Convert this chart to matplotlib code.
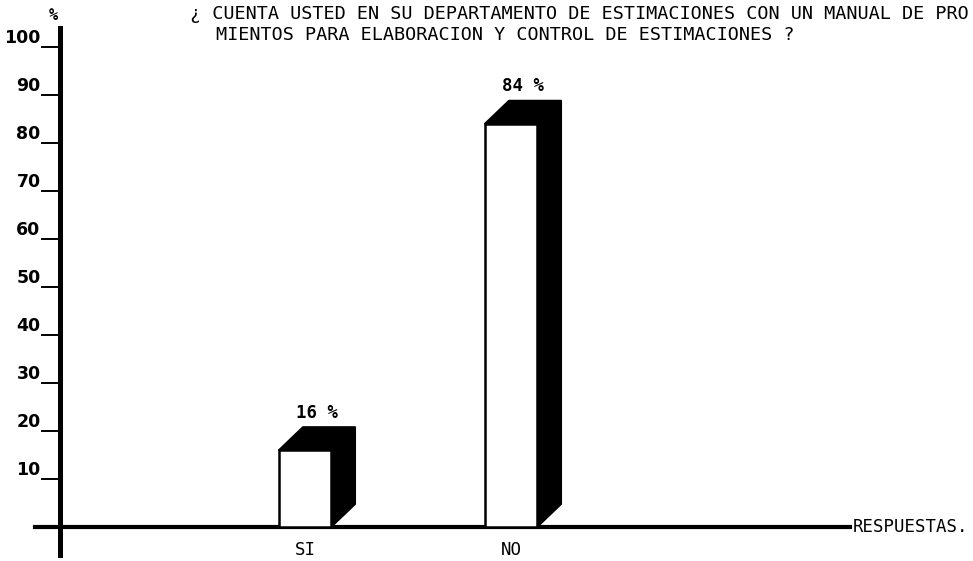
import matplotlib
matplotlib.use("Agg")
import matplotlib.pyplot as plt
from matplotlib.patches import Polygon

# ---- data ----
categories = ["SI", "NO"]
values = [16, 84]
value_labels = ["16 %", "84 %"]
yticks = [10, 20, 30, 40, 50, 60, 70, 80, 90, 100]
title_line1 = "¿ CUENTA USTED EN SU DEPARTAMENTO DE ESTIMACIONES CON UN MANUAL DE PRO"
title_line2 = "MIENTOS PARA ELABORACION Y CONTROL DE ESTIMACIONES ?"
x_axis_name = "RESPUESTAS."
y_axis_name = "%"

# ---- layout (pixel-based) ----
W, H = 973, 561
px_per_unit_y = 4.8      # pixels per 1 %
px_per_unit_x = 206.0    # pixels between category centres
zero_px = 527            # y pixel (from top) of value 0
first_center_px = 305    # x pixel of first bar centre
ax_left_px, ax_right_px = 35, 850
ax_top_px, ax_bot_px = 28, 555

fig = plt.figure(figsize=(W / 100, H / 100), dpi=100)
fig.patch.set_facecolor("white")
ax = fig.add_axes([ax_left_px / W, (H - ax_bot_px) / H,
                   (ax_right_px - ax_left_px) / W, (ax_bot_px - ax_top_px) / H])
ax.set_facecolor("none")

ax.set_ylim((zero_px - ax_bot_px) / px_per_unit_y, (zero_px - ax_top_px) / px_per_unit_y)
ax.set_xlim((ax_left_px - first_center_px) / px_per_unit_x,
            (ax_right_px - first_center_px) / px_per_unit_x)

mono = "DejaVu Sans Mono"

# spines
for s in ("top", "right"):
    ax.spines[s].set_visible(False)
ax.spines["left"].set_position(("data", (60 - first_center_px) / px_per_unit_x))
ax.spines["left"].set_linewidth(3.6)
ax.spines["bottom"].set_position(("data", 0))
ax.spines["bottom"].set_linewidth(3.0)

# y ticks
ax.set_yticks(yticks)
ax.set_yticklabels([str(t) for t in yticks], fontsize=12.5, family="DejaVu Sans",
                   fontweight="bold")
ax.tick_params(axis="y", direction="out", length=14, width=1.4, pad=0)
for lbl in ax.get_yticklabels():
    lbl.set_verticalalignment("bottom")

# x ticks
xs = list(range(len(categories)))
ax.set_xticks(xs)
ax.set_xticklabels(categories, fontsize=12.5, family=mono)
ax.tick_params(axis="x", length=0, pad=10)

# bars with 3D depth
bw = 52 / px_per_unit_x
dx = 24 / px_per_unit_x
dy = 23 / px_per_unit_y
for x, v, lab in zip(xs, values, value_labels):
    xl, xr = x - bw / 2, x + bw / 2
    side = Polygon([(xr, 0), (xr + dx, dy), (xr + dx, v + dy), (xl + dx, v + dy),
                    (xl, v), (xr, v)], closed=True, facecolor="black",
                   edgecolor="black", lw=1.5, zorder=2, joinstyle="round")
    ax.add_patch(side)
    ax.bar(x, v, width=bw, facecolor="white", edgecolor="black", linewidth=1.8, zorder=3)
    ax.annotate(lab, xy=(x + dx / 2, v + dy), xytext=(0, 4), textcoords="offset points",
                ha="center", va="bottom", fontsize=12.5, family=mono, fontweight="bold")

# axis names
ax.text(1.003, 0, x_axis_name, transform=ax.get_yaxis_transform(), ha="left",
        va="center", fontsize=12.5, family=mono)
fig.text(53 / W, 1 - 16 / H, y_axis_name, ha="center", va="center",
         fontsize=11, family=mono, fontweight="bold")

# title
fig.text(190 / W, 1 - 14 / H, title_line1, ha="left", va="center",
         fontsize=13.3, family=mono)
fig.text(216 / W, 1 - 35 / H, title_line2, ha="left", va="center",
         fontsize=13.3, family=mono)

fig.savefig("out.png", dpi=100, facecolor="white")
